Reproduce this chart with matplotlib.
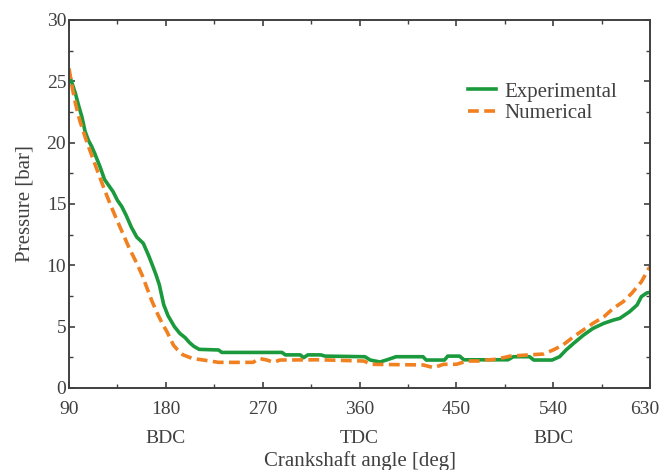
import matplotlib
matplotlib.use("Agg")
import matplotlib.pyplot as plt
import matplotlib.transforms as mtransforms
import numpy as np

# crank angle [deg] / pressure [bar]
EXP_ANGLE = [90, 93, 96, 99, 102, 105, 108, 111, 114, 119, 123, 127, 131, 135, 139,
             143, 148, 153, 159, 164, 168, 171, 174, 178, 182, 188, 193, 198, 202,
             206, 211, 229, 232, 288, 291, 305, 308, 312, 324, 328, 365, 370, 379,
             385, 394, 419, 422, 439, 442, 453, 457, 498, 503, 518, 522, 539, 546,
             552, 559, 568, 577, 587, 596, 602, 611, 618, 622, 627, 630]
EXP_P = [25.6, 24.8, 24.0, 23.0, 22.1, 20.9, 20.2, 19.7, 19.1, 18.0, 17.0, 16.5,
         16.0, 15.3, 14.8, 14.1, 13.1, 12.3, 11.8, 10.8, 9.9, 9.2, 8.4, 6.8, 5.9,
         5.0, 4.45, 4.1, 3.7, 3.4, 3.15, 3.1, 2.9, 2.9, 2.7, 2.7, 2.47, 2.7, 2.7,
         2.6, 2.55, 2.28, 2.12, 2.28, 2.55, 2.55, 2.28, 2.28, 2.6, 2.6, 2.3, 2.3,
         2.55, 2.55, 2.28, 2.28, 2.55, 3.1, 3.64, 4.3, 4.86, 5.27, 5.54, 5.68,
         6.22, 6.77, 7.45, 7.75, 7.8]

NUM_ANGLE = [90, 93, 96, 100, 103, 106, 111, 116, 122, 128, 134, 140, 146, 153,
             158, 162, 167, 172, 177, 181, 187, 191, 196, 205, 215, 229, 261, 267,
             274, 280, 286, 323, 364, 371, 419, 429, 438, 450, 460, 472, 478, 487,
             500, 518, 531, 540, 549, 559, 568, 577, 587, 596, 605, 613, 622, 629, 630]
NUM_P = [26.05, 24.5, 23.2, 21.8, 21.0, 20.2, 19.0, 17.8, 16.4, 15.05, 13.8, 12.6,
         11.4, 10.16, 9.2, 8.26, 7.1, 6.1, 5.2, 4.6, 3.5, 3.1, 2.7, 2.4, 2.28, 2.09,
         2.09, 2.4, 2.28, 2.1, 2.28, 2.3, 2.2, 1.93, 1.88, 1.66, 1.93, 1.93, 2.2,
         2.2, 2.28, 2.34, 2.6, 2.7, 2.77, 3.1, 3.5, 4.18, 4.73, 5.27, 5.8, 6.5,
         7.03, 7.72, 8.66, 9.76, 9.85]

X_TICKS = [90, 180, 270, 360, 450, 540, 630]
X_TICK_LABELS = ["90", "180\nBDC", "270", "360\nTDC", "450", "540\nBDC", "630"]

TEXT_COL = "#404040"
plt.rcParams["font.family"] = ["Liberation Serif", "DejaVu Serif"]
plt.rcParams["font.size"] = 14

fig = plt.figure(figsize=(6.63, 4.70), dpi=100)
ax = fig.add_axes([69 / 663, 1 - 388 / 470, 581 / 663, 368 / 470])

ax.plot(EXP_ANGLE, EXP_P, color="#1a9a3c", lw=2.6, label="Experimental")
ax.plot(NUM_ANGLE, NUM_P, color="#f08020", lw=2.6, ls=(0, (3, 1.5)), label="Numerical")

ax.set_xlim(90, 630)
ax.set_ylim(0, 30)
ax.set_xticks(X_TICKS)
ax.set_xticklabels(X_TICK_LABELS, linespacing=1.95)
ax.set_xticks(np.arange(135, 630, 90), minor=True)
ax.set_yticks(np.arange(0, 31, 5))
ax.set_yticks(np.arange(2.5, 30, 5), minor=True)
ax.tick_params(which="both", direction="in", top=True, right=True,
               colors=TEXT_COL, labelsize=14)
ax.tick_params(which="major", length=4, width=1.2)
ax.tick_params(which="minor", length=3, width=1.0)
ax.tick_params(axis="x", which="major", pad=9)
ax.tick_params(axis="y", which="major", pad=2)
for s in ax.spines.values():
    s.set_color("#404040")
    s.set_linewidth(1.4)

# nudge the last x label in a bit so it stays inside the figure
last = ax.get_xticklabels()[-1]
last.set_transform(last.get_transform() + mtransforms.ScaledTranslation(-5 / 100, 0, fig.dpi_scale_trans))

ax.set_xlabel("Crankshaft angle [deg]", color=TEXT_COL, fontsize=15, labelpad=3)
ax.set_ylabel("Pressure [bar]", color=TEXT_COL, fontsize=15, labelpad=9)

leg = ax.legend(loc="center left", bbox_to_anchor=(0.655, 0.775), frameon=False,
                handlelength=1.35, handletextpad=0.4, labelspacing=0.1, fontsize=15)
for t in leg.get_texts():
    t.set_color(TEXT_COL)

fig.savefig("out.png", dpi=100)
